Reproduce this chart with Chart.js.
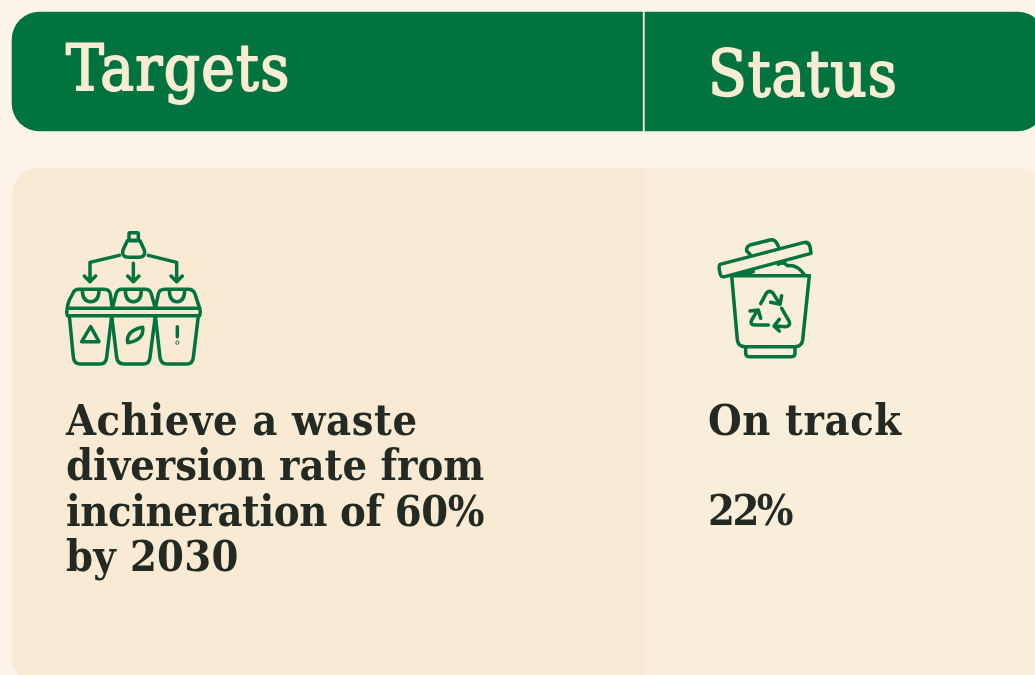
<!DOCTYPE html>
<html>
<head>
<meta charset="utf-8">
<title>Targets and status</title>
<script src="https://cdn.jsdelivr.net/npm/chart.js@4/dist/chart.umd.min.js"></script>
<style>
html, body { margin: 0; padding: 0; background: #fcf4e9; overflow: hidden; }
canvas { display: block; }
</style>
</head>
<body>
<canvas id="myChart" width="1035" height="675"></canvas>
<script>
// table content
const columns = ['Targets', 'Status'];
const targetLines = ['Achieve a waste', 'diversion rate from', 'incineration of 60%', 'by 2030'];
const statusLines = ['On track', '22%'];

// table cells, in page units: [left, right] of a column, [top, bottom] of a row
const columnSpans = [[12, 645], [645, 1045]];
const headerRow = [12, 131];
const bodyRow = [168, 685];

const GREEN = '#00733e';
const DARK = '#222a23';
const CREAM = '#f9ecd5';
const DIVIDER = 2.5;

// letter spacing per line, the fallback font runs a bit different from the original
const targetSpacing = [0.6, 0, -0.4, 0.3];
const statusSpacing = [0.6, -2.5];

// icons are traced at 3x, from their own corner
const sortingIcon = [
    'M240 38H262Q265 38 265 41V58Q265 61 262 61H240Q237 61 237 58V41Q237 38 240 38Z',
    'M232 62H270L283 90Q288 112 266 112H236Q214 112 219 90Z',
    'M208 106L120 127V185M103 168L120 185L137 168',
    'M250 130V185M233 168L250 185L267 168',
    'M295 106L380 127V185M363 168L380 185L397 168',
    'M52 265Q52 255 58 240L68 222Q72 208 88 208H162Q178 208 181 222L187 265',
    'M187 265L198 222Q202 208 216 208H285Q300 208 304 222L316 265',
    'M316 265L325 222Q328 208 345 208H415Q430 208 435 222L449 265',
    'M52 265H449Q453 276 449 287H52Q48 276 52 265Z',
    'M58 287L70 412Q72 432 92 432H150Q168 432 170 412L185 287',
    'M185 287L200 412Q202 432 222 432H280Q298 432 300 412L316 287',
    'M316 287L330 412Q332 432 352 432H410Q428 432 430 412L445 287',
    'M97 210Q97 245 122 245Q147 245 147 210',
    'M226 210Q226 245 250 245Q274 245 274 210',
    'M358 210Q358 245 381 245Q404 245 404 210',
    'M122 320L147 365H95Z',
    'M233 368Q228 332 278 322Q284 360 233 368Z',
    'M382 320V350'
];
const binIcon = [
    'M60 118L310 53Q325 49 330 64L333 85L75 155Q62 158 60 145Q55 122 60 118Z',
    'M150 88L140 78Q138 66 150 60L210 45Q225 42 232 58L235 64',
    'M235 118Q250 108 262 122Q292 118 312 148',
    'M128 150L160 140',
    'M95 152H328',
    'M95 152L112 345Q115 365 135 365H285Q305 365 308 345L328 152',
    'M137 368V385Q137 395 147 395H275Q285 395 285 385V368',
    'M182 236L200 203Q208 195 218 203L238 235M212 232L240 238L245 212',
    'M245 250L268 290Q272 303 258 305L225 303M238 283L222 303L238 318',
    'M205 300H165Q148 300 155 285L172 257M150 258L175 255L182 280'
];

function drawIcon(ctx, paths, x, y) {
    ctx.save();
    ctx.translate(x, y);
    ctx.scale(1 / 3, 1 / 3);
    ctx.strokeStyle = GREEN;
    ctx.lineWidth = 10.5;
    ctx.lineCap = 'round';
    ctx.lineJoin = 'round';
    paths.forEach(p => ctx.stroke(new Path2D(p)));
    ctx.restore();
}

function drawText(ctx, text, x, y, font, color, spacing, thicken) {
    ctx.font = font;
    ctx.fillStyle = color;
    ctx.letterSpacing = spacing + 'px';
    ctx.textBaseline = 'alphabetic';
    ctx.fillText(text, x, y);
    if (thicken) {
        ctx.strokeStyle = color;
        ctx.lineWidth = thicken;
        ctx.lineJoin = 'round';
        ctx.strokeText(text, x, y);
    }
}

const contentPlugin = {
    id: 'content',
    afterDatasetsDraw(chart) {
        const ctx = chart.ctx;
        const x = chart.scales.x;
        const y = chart.scales.y;
        const headFont = '63px "DejaVu Serif Condensed"';
        const bodyFont = 'bold 43px "DejaVu Serif Condensed"';
        ctx.save();
        drawText(ctx, columns[0], x.getPixelForValue(66), y.getPixelForValue(90), headFont, CREAM, 1.3, 1.8);
        drawText(ctx, columns[1], x.getPixelForValue(708), y.getPixelForValue(96), headFont, CREAM, 1, 1.8);
        targetLines.forEach((line, i) => {
            drawText(ctx, line, x.getPixelForValue(66), y.getPixelForValue(435 + i * 45.3), bodyFont, DARK, targetSpacing[i]);
        });
        drawText(ctx, statusLines[0], x.getPixelForValue(708), y.getPixelForValue(435), bodyFont, DARK, statusSpacing[0]);
        drawText(ctx, statusLines[1], x.getPixelForValue(708), y.getPixelForValue(525), bodyFont, DARK, statusSpacing[1]);
        ctx.restore();
        drawIcon(ctx, sortingIcon, 50, 220);
        drawIcon(ctx, binIcon, 700, 225);
        // dot under the exclamation mark
        ctx.save();
        ctx.strokeStyle = GREEN;
        ctx.lineWidth = 1;
        ctx.beginPath();
        ctx.arc(50 + 382 / 3, 220 + 368 / 3, 1.6, 0, Math.PI * 2);
        ctx.stroke();
        ctx.restore();
    }
};

function cell(col, row) {
    return { x: (col[0] + col[1]) / 2, y: row };
}

const leftCorners = { topLeft: 28, bottomLeft: 28, topRight: 0, bottomRight: 0 };
const rightCorners = { topLeft: 0, bottomLeft: 0, topRight: 28, bottomRight: 28 };

const ctx = document.getElementById('myChart').getContext('2d');
const myChart = new Chart(ctx, {
    type: 'bar',
    data: {
        datasets: [
            {
                label: 'Status body',
                data: [cell(columnSpans[1], bodyRow)],
                backgroundColor: '#f9eeda',
                barThickness: columnSpans[1][1] - columnSpans[1][0],
                borderRadius: rightCorners,
                borderSkipped: false
            },
            {
                label: 'Targets body',
                data: [cell(columnSpans[0], bodyRow)],
                backgroundColor: '#f9ebd3',
                barThickness: columnSpans[0][1] - columnSpans[0][0],
                borderRadius: leftCorners,
                borderSkipped: false
            },
            {
                label: 'Status header',
                data: [cell(columnSpans[1], headerRow)],
                backgroundColor: GREEN,
                barThickness: columnSpans[1][1] - columnSpans[1][0],
                borderRadius: rightCorners,
                borderSkipped: false
            },
            {
                label: 'Targets header',
                data: [cell([columnSpans[0][0], columnSpans[0][1] - DIVIDER], headerRow)],
                backgroundColor: GREEN,
                barThickness: columnSpans[0][1] - columnSpans[0][0] - DIVIDER,
                borderRadius: leftCorners,
                borderSkipped: false
            }
        ]
    },
    options: {
        responsive: false,
        animation: false,
        events: [],
        layout: { padding: 0 },
        datasets: { bar: { grouped: false } },
        plugins: { legend: { display: false }, tooltip: { enabled: false } },
        scales: {
            x: { type: 'linear', min: 0, max: 1035, offset: false, display: false },
            y: { type: 'linear', min: 0, max: 675, reverse: true, display: false }
        }
    },
    plugins: [contentPlugin]
});
</script>
</body>
</html>
